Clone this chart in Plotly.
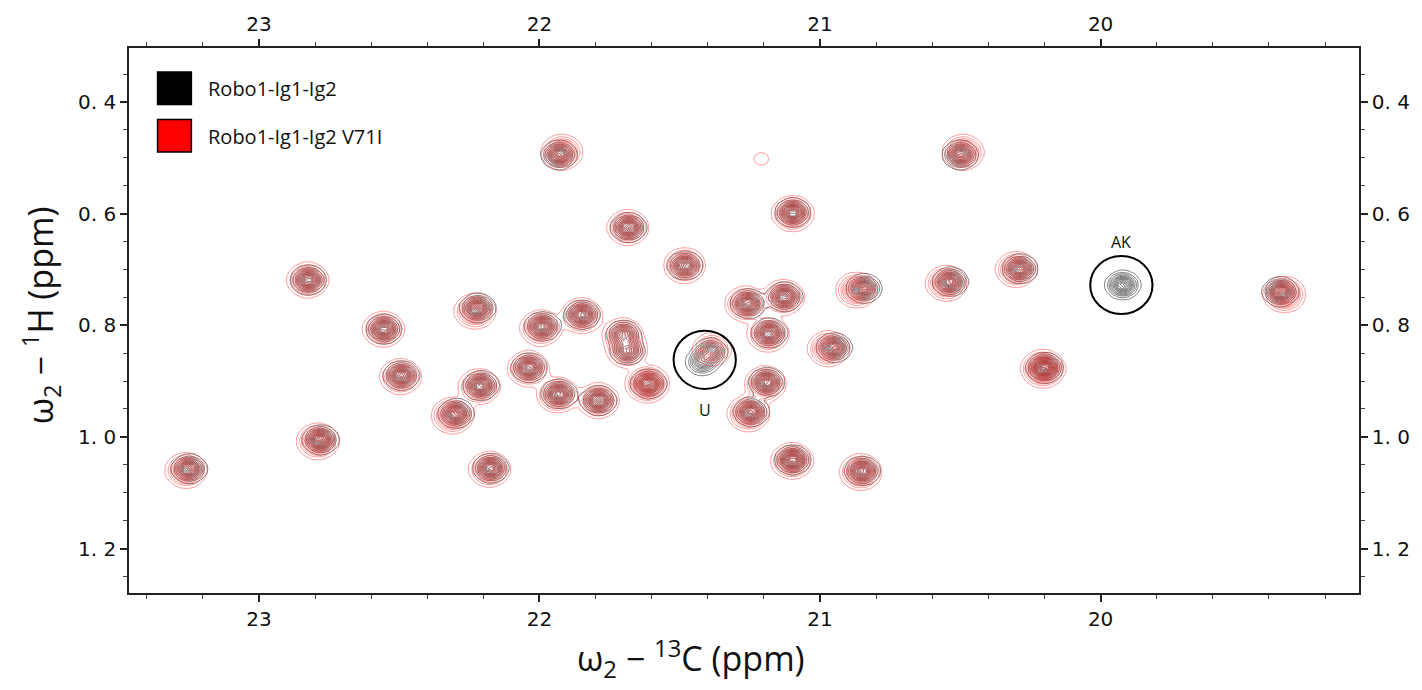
import numpy as np
import plotly.graph_objects as go

# ---------------- data (peak lists) ----------------
# Robo1-Ig1-Ig2 (black)
black_c = [21.93, 20.50, 21.097, 21.682, 21.481, 22.823, 22.554, 22.492, 22.78, 23.248,
           22.22, 22.208, 22.297, 22.173, 21.989, 21.848, 21.700, 21.685, 21.611, 21.39,
           21.42, 22.037, 21.93, 21.789, 21.256, 21.126, 21.18, 21.19, 21.245, 20.949,
           20.843, 21.097, 20.849, 20.535, 20.287, 19.921, 20.199, 19.359]
black_h = [0.495, 0.495, 0.598, 0.625, 0.693, 0.719, 0.807, 0.890, 1.005, 1.057,
           0.769, 0.908, 0.958, 1.056, 0.802, 0.781, 0.816, 0.846, 0.905, 0.848,
           0.866, 0.876, 0.923, 0.935, 0.761, 0.749, 0.814, 0.902, 0.955, 0.840,
           0.734, 1.041, 1.061, 0.722, 0.699, 0.728, 0.876, 0.740]
black_i = [1.0, 1.0, 1.0, 1.0, 0.9, 1.0, 1.0, 1.0, 1.1, 1.0,
           1.0, 1.0, 1.0, 1.0, 1.0, 1.0, 0.8, 0.8, 1.0, 0.75,
           0.65, 1.0, 1.0, 1.0, 1.0, 1.0, 1.0, 1.0, 1.0, 1.0,
           1.0, 1.1, 1.0, 1.0, 1.0, 1.0, 1.3, 1.1]

# Robo1-Ig1-Ig2 V71I (red)
red_c = [21.92, 20.49, 21.097, 21.685, 21.483, 22.826, 22.556, 22.495, 22.79, 23.26,
         22.23, 22.215, 22.31, 22.178, 21.995, 21.85, 21.703, 21.688, 21.615, 21.385,
         22.04, 21.935, 21.79, 21.265, 21.13, 21.185, 21.195, 21.255, 20.97,
         20.87, 21.10, 20.855, 20.55, 20.30, 20.205, 19.345, 21.209]
red_h = [0.490, 0.490, 0.600, 0.625, 0.693, 0.719, 0.807, 0.892, 1.008, 1.060,
         0.775, 0.910, 0.962, 1.058, 0.805, 0.783, 0.818, 0.846, 0.905, 0.843,
         0.878, 0.925, 0.935, 0.762, 0.750, 0.816, 0.905, 0.958, 0.842,
         0.737, 1.043, 1.063, 0.725, 0.700, 0.878, 0.745, 0.502]
red_i = [1.0, 1.0, 1.1, 1.0, 1.0, 1.0, 1.0, 1.0, 1.1, 1.0,
         1.0, 1.0, 1.1, 1.0, 1.0, 1.0, 0.85, 0.8, 1.4, 0.7,
         1.0, 1.0, 1.0, 1.0, 1.0, 1.0, 1.0, 1.1, 1.0,
         1.0, 1.1, 1.1, 1.0, 1.0, 1.5, 1.1, 0.10]

series_names = ["Robo1-Ig1-Ig2", "Robo1-Ig1-Ig2 V71I"]
x_ticks = [23, 22, 21, 20]
y_ticks = [0.4, 0.6, 0.8, 1.0, 1.2]
y_ticktext = ["0. 4", "0. 6", "0. 8", "1. 0", "1. 2"]
circled = [("U", 21.411, 0.862), ("AK", 19.926, 0.728)]
label_pos = {"U": (21.411, 0.952), "AK": (19.926, 0.650)}

# ---------------- spectrum grid ----------------
cg = np.arange(19.0, 23.55, 0.018)
hg = np.arange(0.28, 1.31, 0.0072)
CC, HH = np.meshgrid(cg, hg)


def spectrum(cs, hs, amps, sx, sy):
    z = np.zeros(CC.shape)
    for c, h, a in zip(cs, hs, amps):
        z += a * np.exp(-0.5 * (((CC - c) / sx) ** 2 + ((HH - h) / sy) ** 2))
    return z


zb = spectrum(black_c, black_h, black_i, 0.0275, 0.0113)
zr = spectrum(red_c, red_h, red_i, 0.0320, 0.0138)

fig = go.Figure()


def add_contour(z, color, name, width):
    fig.add_trace(go.Contour(
        x=cg, y=hg, z=z, name=name,
        contours=dict(coloring="lines", start=0.07, end=2.0, size=0.075),
        colorscale=[[0, color], [1, color]], showscale=False,
        line=dict(width=width, smoothing=0), hoverinfo="skip"))


add_contour(zb, "rgba(70,70,70,0.8)", series_names[0], 0.9)
add_contour(zr, "rgba(255,25,25,0.55)", series_names[1], 0.8)

# invisible trace for mirrored axes (labels on top/right)
fig.add_trace(go.Scatter(x=[None], y=[None], xaxis="x2", yaxis="y2", showlegend=False))

X0, X1 = 23.463, 19.079
Y0, Y1 = 1.2796, 0.3034
axis_font = dict(family="DejaVu Sans", size=20, color="#111")

common_x = dict(range=[X0, X1], tickvals=x_ticks, ticks="outside", ticklen=7, tickwidth=1.5,
                tickcolor="#222", showline=True, linecolor="#222", linewidth=1.5,
                showgrid=False, zeroline=False, tickfont=axis_font,
                minor=dict(dtick=0.2, tick0=20, ticks="outside", ticklen=4, tickcolor="#444",
                           tickwidth=1))
common_y = dict(range=[Y0, Y1], tickvals=y_ticks, ticktext=y_ticktext, ticks="outside",
                ticklen=7, tickwidth=1.5, tickcolor="#222", showline=True, linecolor="#222",
                linewidth=1.5, showgrid=False, zeroline=False, tickfont=axis_font,
                minor=dict(dtick=0.05, tick0=0.4, ticks="outside", ticklen=4,
                           tickcolor="#444", tickwidth=1))

fig.update_layout(
    width=1422, height=690,
    margin=dict(l=129, r=56, t=42, b=97),
    paper_bgcolor="white", plot_bgcolor="white",
    showlegend=False,
    xaxis=dict(**common_x, side="bottom"),
    yaxis=dict(**common_y, side="left"),
    xaxis2=dict(**common_x, side="top", overlaying="x", anchor="y2"),
    yaxis2=dict(**common_y, side="right", overlaying="y", anchor="x2"),
)

shapes = []
annotations = []
for lab, c, h in circled:
    shapes.append(dict(type="circle", xref="x", yref="y", x0=c + 0.111, x1=c - 0.111,
                       y0=h - 0.052, y1=h + 0.052, line=dict(color="black", width=2)))
for lab, (c, h) in label_pos.items():
    annotations.append(dict(x=c, y=h, xref="x", yref="y", text=lab, showarrow=False,
                            xanchor="center", yanchor="middle",
                            font=dict(family="Open Sans", size=16, color="#111")))


def px(xp):
    return (xp - 129.3) / 1236.4


def py(yp):
    return (593.3 - yp) / 551.6


# legend boxes
shapes.append(dict(type="rect", xref="paper", yref="paper", x0=px(158), x1=px(192),
                   y0=py(99), y1=py(66), fillcolor="black", line=dict(color="black", width=1.5)))
shapes.append(dict(type="rect", xref="paper", yref="paper", x0=px(158), x1=px(192),
                   y0=py(147), y1=py(114), fillcolor="red", line=dict(color="black", width=1.5)))
for name, yc in zip(series_names, [83, 131]):
    annotations.append(dict(x=px(207), y=py(yc), xref="paper", yref="paper", text=name,
                            showarrow=False, xanchor="left", yanchor="middle",
                            font=dict(family="Open Sans", size=20, color="#111")))

# axis titles
annotations.append(dict(x=px(694), y=py(660), xref="paper", yref="paper",
                        text="ω<sub>2</sub> − <sup>13</sup>C (ppm)", showarrow=False,
                        xanchor="center", yanchor="middle",
                        font=dict(family="Open Sans", size=34, color="#111")))
annotations.append(dict(x=px(40), y=py(312), xref="paper", yref="paper",
                        text="ω<sub>2</sub> − <sup>1</sup>H (ppm)", showarrow=False, textangle=-90,
                        xanchor="center", yanchor="middle",
                        font=dict(family="Open Sans", size=34, color="#111")))

fig.update_layout(shapes=shapes, annotations=annotations)
fig.write_html("out.html")
